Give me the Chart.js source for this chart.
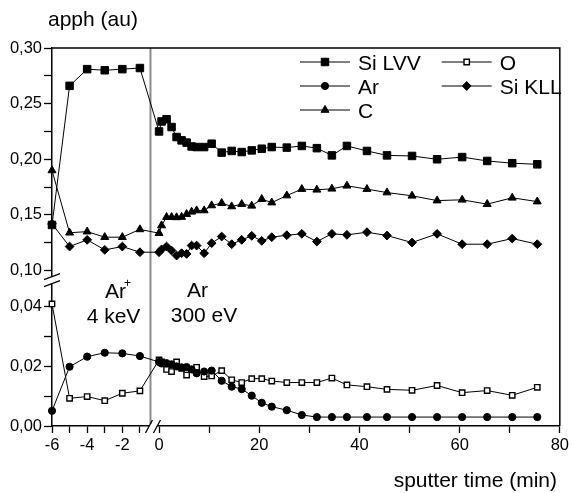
<!DOCTYPE html>
<html>
<head>
<meta charset="utf-8">
<script src="https://cdn.jsdelivr.net/npm/chart.js@4.4.1/dist/chart.umd.min.js"></script>
<style>
  body { margin: 0; background: #fff; }
  #wrap { width: 572px; height: 493px; }
</style>
</head>
<body>
<div id="wrap"><canvas id="myChart"></canvas></div>
<script>
// sputter time (min), negative = Ar+ 4 keV stage
const timeMin = [-6, -5, -4, -3, -2, -1,
  0, 0.5, 1.5, 2.5, 3.5, 4.5, 5.5, 6.5, 7.5, 9, 10.5,
  12.5, 14.5, 16.5, 18.5, 20.5, 22.5, 25.5, 28.5, 31.5, 34.5, 37.5,
  41.5, 45.5, 50.5, 55.5, 60.5, 65.5, 70.5, 75.5];

const siLVV = [0.141, 0.266, 0.281, 0.280, 0.281, 0.282,
  0.225, 0.234, 0.236, 0.229, 0.220, 0.217, 0.215, 0.2115, 0.211, 0.211, 0.214,
  0.206, 0.2075, 0.2065, 0.208, 0.2095, 0.211, 0.2105, 0.212, 0.210, 0.2035, 0.212,
  0.2075, 0.2035, 0.203, 0.200, 0.202, 0.1985, 0.1965, 0.1955];
const carbon = [0.190, 0.134, 0.135, 0.130, 0.130, 0.137,
  0.1336, 0.1405, 0.148, 0.148, 0.1478, 0.1481, 0.1507, 0.1528, 0.154, 0.154, 0.1585,
  0.1606, 0.1576, 0.1597, 0.1582, 0.1642, 0.1611, 0.1674, 0.1732, 0.1726, 0.1735, 0.1762,
  0.1732, 0.1701, 0.1672, 0.1629, 0.1636, 0.1597, 0.1654, 0.162];
const siKLL = [0.142, 0.1216, 0.1276, 0.1186, 0.1216, 0.1165,
  0.1165, 0.119, 0.1216, 0.118, 0.1135, 0.1156, 0.115, 0.1225, 0.1225, 0.1156, 0.1246,
  0.1306, 0.1237, 0.1276, 0.1312, 0.1267, 0.130, 0.1318, 0.133, 0.1261, 0.133, 0.1321,
  0.1345, 0.1315, 0.1252, 0.133, 0.1237, 0.1237, 0.1288, 0.1237];
const argon = [0.0051, 0.0199, 0.0233, 0.0246, 0.0244, 0.0235,
  0.0215, 0.021, 0.0211, 0.0207, 0.0200, 0.0197, 0.0198, 0.019, 0.0177, 0.0183, 0.0186,
  0.0152, 0.0132, 0.0124, 0.0102, 0.0078, 0.0065, 0.0053, 0.0037, 0.003, 0.003, 0.003,
  0.003, 0.003, 0.003, 0.003, 0.003, 0.003, 0.003, 0.003];
const oxygen = [0.041, 0.0093, 0.0099, 0.0085, 0.011, 0.0118,
  0.0222, 0.0215, 0.019, 0.0183, 0.0215, 0.0194, 0.0171, 0.019, 0.0197, 0.0166, 0.0168,
  0.0186, 0.0155, 0.0146, 0.0159, 0.0159, 0.0151, 0.0146, 0.0146, 0.0146, 0.0161, 0.0138,
  0.0132, 0.0123, 0.012, 0.0136, 0.0112, 0.0119, 0.0103, 0.013];

const xTickValues = [-6, -5, -4, -3, -2, -1, 0, 10, 20, 30, 40, 50, 60, 70, 80];
const xTickLabels = ['-6', '', '-4', '', '-2', '', '0', '', '20', '', '40', '', '60', '', '80'];
const yTickValues = [0, 0.01, 0.02, 0.03, 0.04, 0.10, 0.125, 0.15, 0.175, 0.20, 0.225, 0.25, 0.275, 0.30];
const yTickLabels = ['0,00', '', '0,02', '', '0,04', '0,10', '', '0,15', '', '0,20', '', '0,25', '', '0,30'];

const FONT = '"Liberation Sans", Arial, sans-serif';

// broken axes: left part of time axis is stretched, upper part of y axis is compressed
function xPos(t) { return t < 0 ? t * 3.51 - 0.31 : t; }
function yPos(v) { return v >= 0.07 ? 0.0522 + (v - 0.1) * 0.3738 : v; }

function pts(vals) {
  return vals.map((v, i) => ({ x: xPos(timeMin[i]), y: yPos(v) }));
}

function series(label, vals, style, radius, hollow) {
  return {
    label: label,
    data: pts(vals),
    borderColor: '#000',
    backgroundColor: '#000',
    borderWidth: 1,
    pointStyle: style,
    pointRadius: radius,
    pointBackgroundColor: hollow ? '#fff' : '#000',
    pointBorderColor: '#000',
    pointBorderWidth: hollow ? 1.4 : 1,
    tension: 0,
    clip: false
  };
}

// legend order: Si LVV, O / Ar, Si KLL / C
const legendOrder = ['Si LVV', 'O', 'Ar', 'Si KLL', 'C'];

function drawMarker(ctx, ds, x, y) {
  ctx.fillStyle = ds.pointBackgroundColor;
  ctx.strokeStyle = ds.pointBorderColor;
  ctx.lineWidth = ds.pointBorderWidth;
  Chart.helpers.drawPoint(ctx, { pointStyle: ds.pointStyle, radius: ds.pointRadius, rotation: 0, borderWidth: ds.pointBorderWidth }, x, y);
}

const decor = {
  id: 'decor',
  beforeDatasetsDraw(chart) {
    const { ctx, chartArea: a, scales: { x } } = chart;
    const px = x.getPixelForValue(xPos(-0.4));
    ctx.save();
    ctx.strokeStyle = '#8a8a8a';
    ctx.lineWidth = 2;
    ctx.beginPath();
    ctx.moveTo(px, a.top);
    ctx.lineTo(px, a.bottom);
    ctx.stroke();
    ctx.restore();
  },
  afterDraw(chart) {
    const { ctx, chartArea: a, scales: { x, y } } = chart;
    ctx.save();
    // frame top + right
    ctx.strokeStyle = '#000';
    ctx.lineWidth = 1.5;
    ctx.beginPath();
    ctx.moveTo(a.left, a.top);
    ctx.lineTo(a.right, a.top);
    ctx.lineTo(a.right, a.bottom);
    ctx.stroke();

    // x break
    const bx = x.getPixelForValue(xPos(-0.4)) + 2.5;
    ctx.fillStyle = '#fff';
    ctx.fillRect(bx - 4, a.bottom - 2, 8, 4);
    ctx.lineWidth = 1.3;
    ctx.beginPath();
    [-4, 4].forEach(d => {
      ctx.moveTo(bx + d - 3.5, a.bottom + 7);
      ctx.lineTo(bx + d + 3.5, a.bottom - 6);
    });
    ctx.stroke();

    // y break
    const by = y.getPixelForValue(0.049);
    ctx.fillRect(a.left - 2, by - 3.5, 4, 7);
    ctx.beginPath();
    [-3.5, 3.5].forEach(d => {
      ctx.moveTo(a.left - 8, by + d + 3);
      ctx.lineTo(a.left + 8, by + d - 3);
    });
    ctx.stroke();

    // axis titles
    ctx.fillStyle = '#000';
    ctx.font = '21px ' + FONT;
    ctx.textBaseline = 'alphabetic';
    ctx.textAlign = 'left';
    ctx.fillText('apph (au)', 48, 26);
    ctx.textAlign = 'right';
    ctx.fillText('sputter time (min)', 557, 487);

    // stage labels
    ctx.textAlign = 'center';
    ctx.fillText('Ar', 115.5, 298);
    ctx.fillText('4 keV', 113.5, 323);
    ctx.fillText('Ar', 197.5, 297);
    ctx.fillText('300 eV', 204, 322);
    ctx.font = '12px ' + FONT;
    ctx.fillText('+', 127.5, 287);

    // legend
    const cols = [300, 441.7];
    const rows = [62, 86, 110];
    ctx.font = '21px ' + FONT;
    ctx.textAlign = 'left';
    legendOrder.forEach((name, i) => {
      const ds = chart.data.datasets.find(d => d.label === name);
      const lx = cols[i % 2];
      const ly = rows[Math.floor(i / 2)];
      ctx.strokeStyle = '#000';
      ctx.lineWidth = 1;
      ctx.beginPath();
      ctx.moveTo(lx, ly);
      ctx.lineTo(lx + 50, ly);
      ctx.stroke();
      drawMarker(ctx, ds, lx + 25, ly);
      ctx.fillStyle = '#000';
      ctx.fillText(name, lx + 58, ly + 7.5);
    });
    ctx.restore();
  }
};

var ctx = document.getElementById('myChart').getContext('2d');
var myChart = new Chart(ctx, {
  type: 'line',
  data: {
    datasets: [
      series('Si LVV', siLVV, 'rect', 5.3, false),
      series('C', carbon, 'triangle', 4.6, false),
      series('Si KLL', siKLL, 'rectRot', 4.4, false),
      series('Ar', argon, 'circle', 3.6, false),
      series('O', oxygen, 'rect', 3.8, true)
    ]
  },
  options: {
    responsive: true,
    maintainAspectRatio: false,
    animation: false,
    layout: { padding: { top: 48, right: 9, left: 0, bottom: 0 } },
    plugins: { legend: { display: false }, tooltip: { enabled: false } },
    scales: {
      x: {
        type: 'linear',
        min: xPos(-6),
        max: 80,
        afterBuildTicks: s => { s.ticks = xTickValues.map(t => ({ value: xPos(t) })); },
        afterFit: s => { s.height = 67; },
        ticks: {
          autoSkip: false, maxRotation: 0, minRotation: 0, color: '#000', padding: 3,
          font: { family: FONT, size: 16.5 },
          callback: (v, i) => xTickLabels[i]
        },
        grid: { drawOnChartArea: false, tickLength: 7, tickColor: '#000', tickWidth: 1.3 },
        border: { color: '#000', width: 1.5 }
      },
      y: {
        type: 'linear',
        min: 0,
        max: yPos(0.30),
        afterBuildTicks: s => { s.ticks = yTickValues.map(v => ({ value: yPos(v) })); },
        afterFit: s => { s.width = 52; },
        ticks: {
          autoSkip: false, color: '#000', padding: 2,
          font: { family: FONT, size: 16.5 },
          callback: (v, i) => yTickLabels[i]
        },
        grid: { drawOnChartArea: false, tickLength: 8, tickColor: '#000', tickWidth: 1.3 },
        border: { color: '#000', width: 1.5 }
      }
    }
  },
  plugins: [decor]
});
</script>
</body>
</html>
